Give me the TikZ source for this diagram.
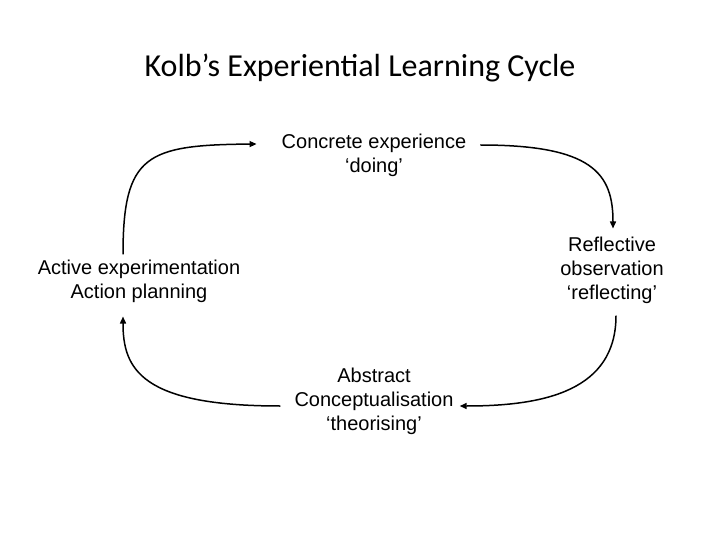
\documentclass[tikz,border=0pt]{standalone}
\usepackage{fontspec}
\setmainfont{Liberation Sans}
\newfontfamily\titlefont{Carlito}
\usetikzlibrary{arrows.meta}

\begin{document}
\begin{tikzpicture}[x=1bp,y=-1bp,
      stage/.style={align=center,inner sep=0pt,font=\fontsize{20bp}{24bp}\selectfont},
      arr/.style={-{Triangle[length=7bp,width=6bp]},line width=1.5bp}]
    \useasboundingbox (0,0) rectangle (720,540);
    % title
    \node[font=\titlefont\fontsize{32bp}{38bp}\selectfont] (title) at (360,68) {Kolb’s Experiential Learning Cycle};
    % the four stages
    \node[stage] (concrete) at (374,155) {Concrete experience\\‘doing’};
    \node[stage] (reflective) at (612,270) {Reflective\\observation\\‘reflecting’};
    \node[stage] (abstract) at (374,401) {Abstract\\Conceptualisation\\‘theorising’};
    \node[stage] (active) at (139,281) {Active experimentation\\Action planning};
    % cycle
    \draw[arr] ([shift={(-16,-5)}]active.north) .. controls +(0,-100) and +(-110,1) .. ([shift={(-25,-11)}]concrete.west);
    \draw[arr] ([shift={(14,-10)}]concrete.east) .. controls +(112,0) and +(0,-55) .. ([shift={(1,-8)}]reflective.north);
    \draw[arr] ([shift={(4,12)}]reflective.south) .. controls +(0,75) and +(85,0) .. ([shift={(6,5)}]abstract.east);
    \draw[arr] ([shift={(-14,5)}]abstract.west) .. controls +(-140,0) and +(0,52) .. ([shift={(-16,14)}]active.south);
\end{tikzpicture}
\end{document}
